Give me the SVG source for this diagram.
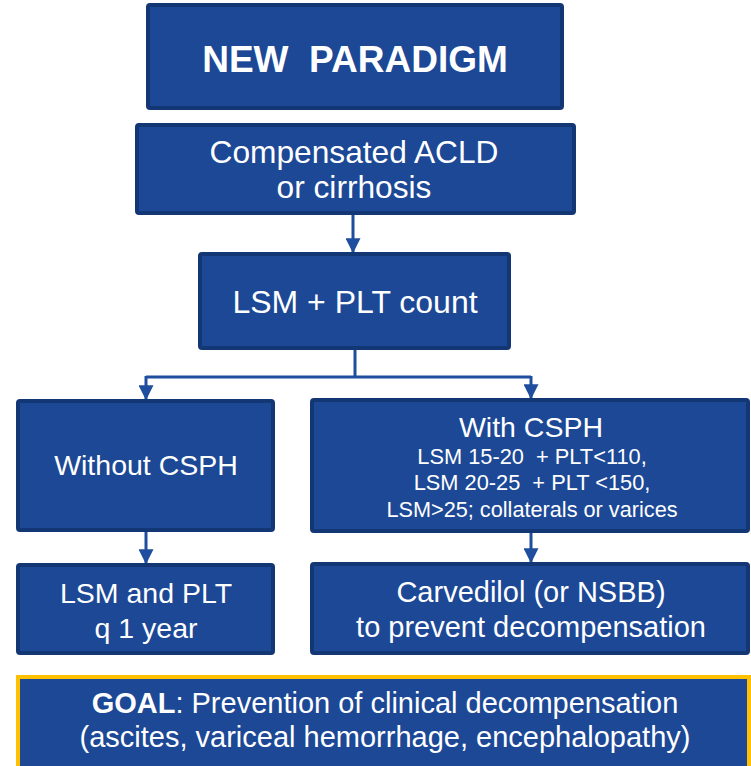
<svg xmlns="http://www.w3.org/2000/svg" width="751" height="766" viewBox="0 0 751 766">
<style>
.box{fill:#1C4896;stroke:#133674;stroke-width:4}
.goal{fill:#1C4896;stroke:#FFC000;stroke-width:4}
text{font-family:"Liberation Sans",Arial,sans-serif;fill:#FFFFFF;text-anchor:middle;white-space:pre}
.b{font-weight:bold}
.conn{stroke:#1F4E9E;stroke-width:3;fill:none}
</style>
<defs>
<marker id="ah" markerWidth="5" markerHeight="5" refX="4.6" refY="2.5" orient="auto" markerUnits="strokeWidth">
<path d="M0,0 L5,2.5 L0,5 Z" fill="#1F4E9E"/>
</marker>
</defs>
<rect x="0" y="0" width="751" height="766" fill="#FFFFFF"/>
<g id="connectors">
<path class="conn" d="M353,213 V252" marker-end="url(#ah)"/>
<path class="conn" d="M355,349 V377"/>
<path class="conn" d="M146,377 H531"/>
<path class="conn" d="M146,376 V399" marker-end="url(#ah)"/>
<path class="conn" d="M531,376 V398" marker-end="url(#ah)"/>
<path class="conn" d="M146,530 V563" marker-end="url(#ah)"/>
<path class="conn" d="M531,531 V562" marker-end="url(#ah)"/>
</g>
<g id="new-paradigm">
<rect class="box" x="148" y="5" width="414" height="103" rx="2"/>
<text class="b" x="355" y="72" font-size="37">NEW  PARADIGM</text>
</g>
<g id="compensated">
<rect class="box" x="137" y="125" width="437" height="88" rx="2"/>
<text x="354" y="163" font-size="31.7">Compensated ACLD</text>
<text x="354" y="198" font-size="31.7">or cirrhosis</text>
</g>
<g id="lsm-plt">
<rect class="box" x="200" y="254" width="309" height="94" rx="2"/>
<text x="355" y="313" font-size="32">LSM + PLT count</text>
</g>
<g id="without-csph">
<rect class="box" x="18" y="401" width="255" height="129" rx="2"/>
<text x="146" y="475" font-size="28.5">Without CSPH</text>
</g>
<g id="with-csph">
<rect class="box" x="312" y="400" width="436" height="131" rx="2"/>
<text x="531" y="437" font-size="28.5">With CSPH</text>
<text x="532" y="464" font-size="21.8">LSM 15-20  + PLT&lt;110,</text>
<text x="532" y="490" font-size="21.8">LSM 20-25  + PLT &lt;150,</text>
<text x="532" y="517" font-size="21.7">LSM&gt;25; collaterals or varices</text>
</g>
<g id="lsm-plt-year">
<rect class="box" x="18" y="565" width="255" height="88" rx="2"/>
<text x="146" y="603" font-size="28.5">LSM and PLT</text>
<text x="146" y="638" font-size="28.5">q 1 year</text>
</g>
<g id="carvedilol">
<rect class="box" x="312" y="564" width="436" height="89" rx="2"/>
<text x="531" y="602" font-size="29">Carvedilol (or NSBB)</text>
<text x="531" y="637" font-size="29">to prevent decompensation</text>
</g>
<g id="goal">
<rect class="goal" x="18" y="677" width="731" height="95"/>
<text x="385" y="713" font-size="29"><tspan font-weight="bold">GOAL</tspan>: Prevention of clinical decompensation</text>
<text x="385" y="747" font-size="29">(ascites, variceal hemorrhage, encephalopathy)</text>
</g>
</svg>
